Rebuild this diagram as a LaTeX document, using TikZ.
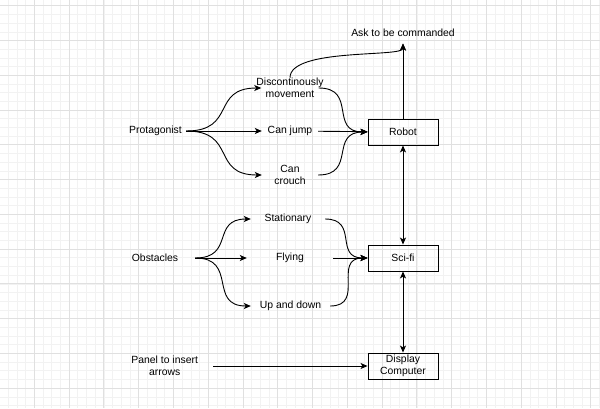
\documentclass[tikz,border=0pt]{standalone}
\usepackage{fontspec}
\setmainfont{Liberation Sans}
\usetikzlibrary{arrows.meta}
\begin{document}
\begin{tikzpicture}[x=1pt, y=-1pt,
>={Stealth[length=7pt, width=6pt, inset=1.8pt]},
minor/.style = {draw=black!5, line width=0.5pt},
major/.style = {draw=black!12, line width=0.7pt},
txt/.style = {font=\fontsize{10.4}{12.5}\selectfont, align=center, inner sep=0pt},
box/.style = {txt, draw=black, line width=0.9pt, minimum width=70pt, minimum height=26pt},
edge/.style = {line width=0.9pt, ->},
edge2/.style = {edge, <->},
edgeS/.style = {edge, out=0, in=180, looseness=1.5}]
\useasboundingbox (0,0) rectangle (600,408);
\begin{scope}
\clip (0,0) rectangle (600,408);
\foreach \i in {0,...,69} \draw[minor] ({-0.5+8.694*\i},0) -- ({-0.5+8.694*\i},408);
\foreach \i in {-1,...,46} \draw[minor] (0,{5.7+8.69*\i}) -- (600,{5.7+8.69*\i});
\foreach \i in {0,...,17} \draw[major] ({-0.5+34.775*\i},0) -- ({-0.5+34.775*\i},408);
\foreach \i in {0,...,11} \draw[major] (0,{5.7+34.75*\i}) -- (600,{5.7+34.75*\i});
\end{scope}

\node[txt, minimum width=61pt] (prot) at (155.5,131) {Protagonist};
\node[txt, minimum width=56pt] (disc) at (290,88) {Discontinously\\movement};
\node[txt, minimum width=56pt] (jump) at (290,131) {Can jump};
\node[txt, minimum width=56pt] (crouch) at (290,175) {Can\\crouch};
\node[box] (robot) at (403,132) {Robot};
\node[txt, inner ysep=6.5pt] (ask) at (403,33) {Ask to be commanded};
\node[txt, minimum width=80pt] (obst) at (155,258) {Obstacles};
\node[txt, minimum width=74pt] (stat) at (288,219) {Stationary};
\node[txt, minimum width=86pt] (fly) at (290,258) {Flying};
\node[txt, minimum width=79pt] (updown) at (290.5,306) {Up and down};
\node[box] (scifi) at (403,258) {Sci-fi};
\node[txt, minimum width=97pt] (panel) at (164.7,366) {Panel to insert\\arrows};
\node[box] (display) at (403,366) {Display\\Computer};

\draw[edgeS] (prot.east) to ([xshift=5pt]disc.west);
\draw[edge] (prot) -- (jump);
\draw[edgeS] (prot.east) to (crouch.west);
\draw[edgeS] ([xshift=-5pt]disc.east) to (robot.west);
\draw[edge] (jump) -- (robot);
\draw[edgeS] (crouch.east) to (robot.west);
\draw[edge] (robot) -- (ask);
\draw[edge] (disc.north) .. controls +(0,-30) and +(0,14) .. (ask.south);
\draw[edge2] (robot) -- (scifi);
\draw[edgeS] (obst.east) to (stat.west);
\draw[edge] (obst) -- (fly);
\draw[edgeS] (obst.east) to (updown.west);
\draw[edgeS] (stat.east) to (scifi.west);
\draw[edge] (fly) -- (scifi);
\draw[edgeS] (updown.east) to (scifi.west);
\draw[edge2] (scifi) -- (display);
\draw[edge] (panel) -- (display);
\end{tikzpicture}
\end{document}
